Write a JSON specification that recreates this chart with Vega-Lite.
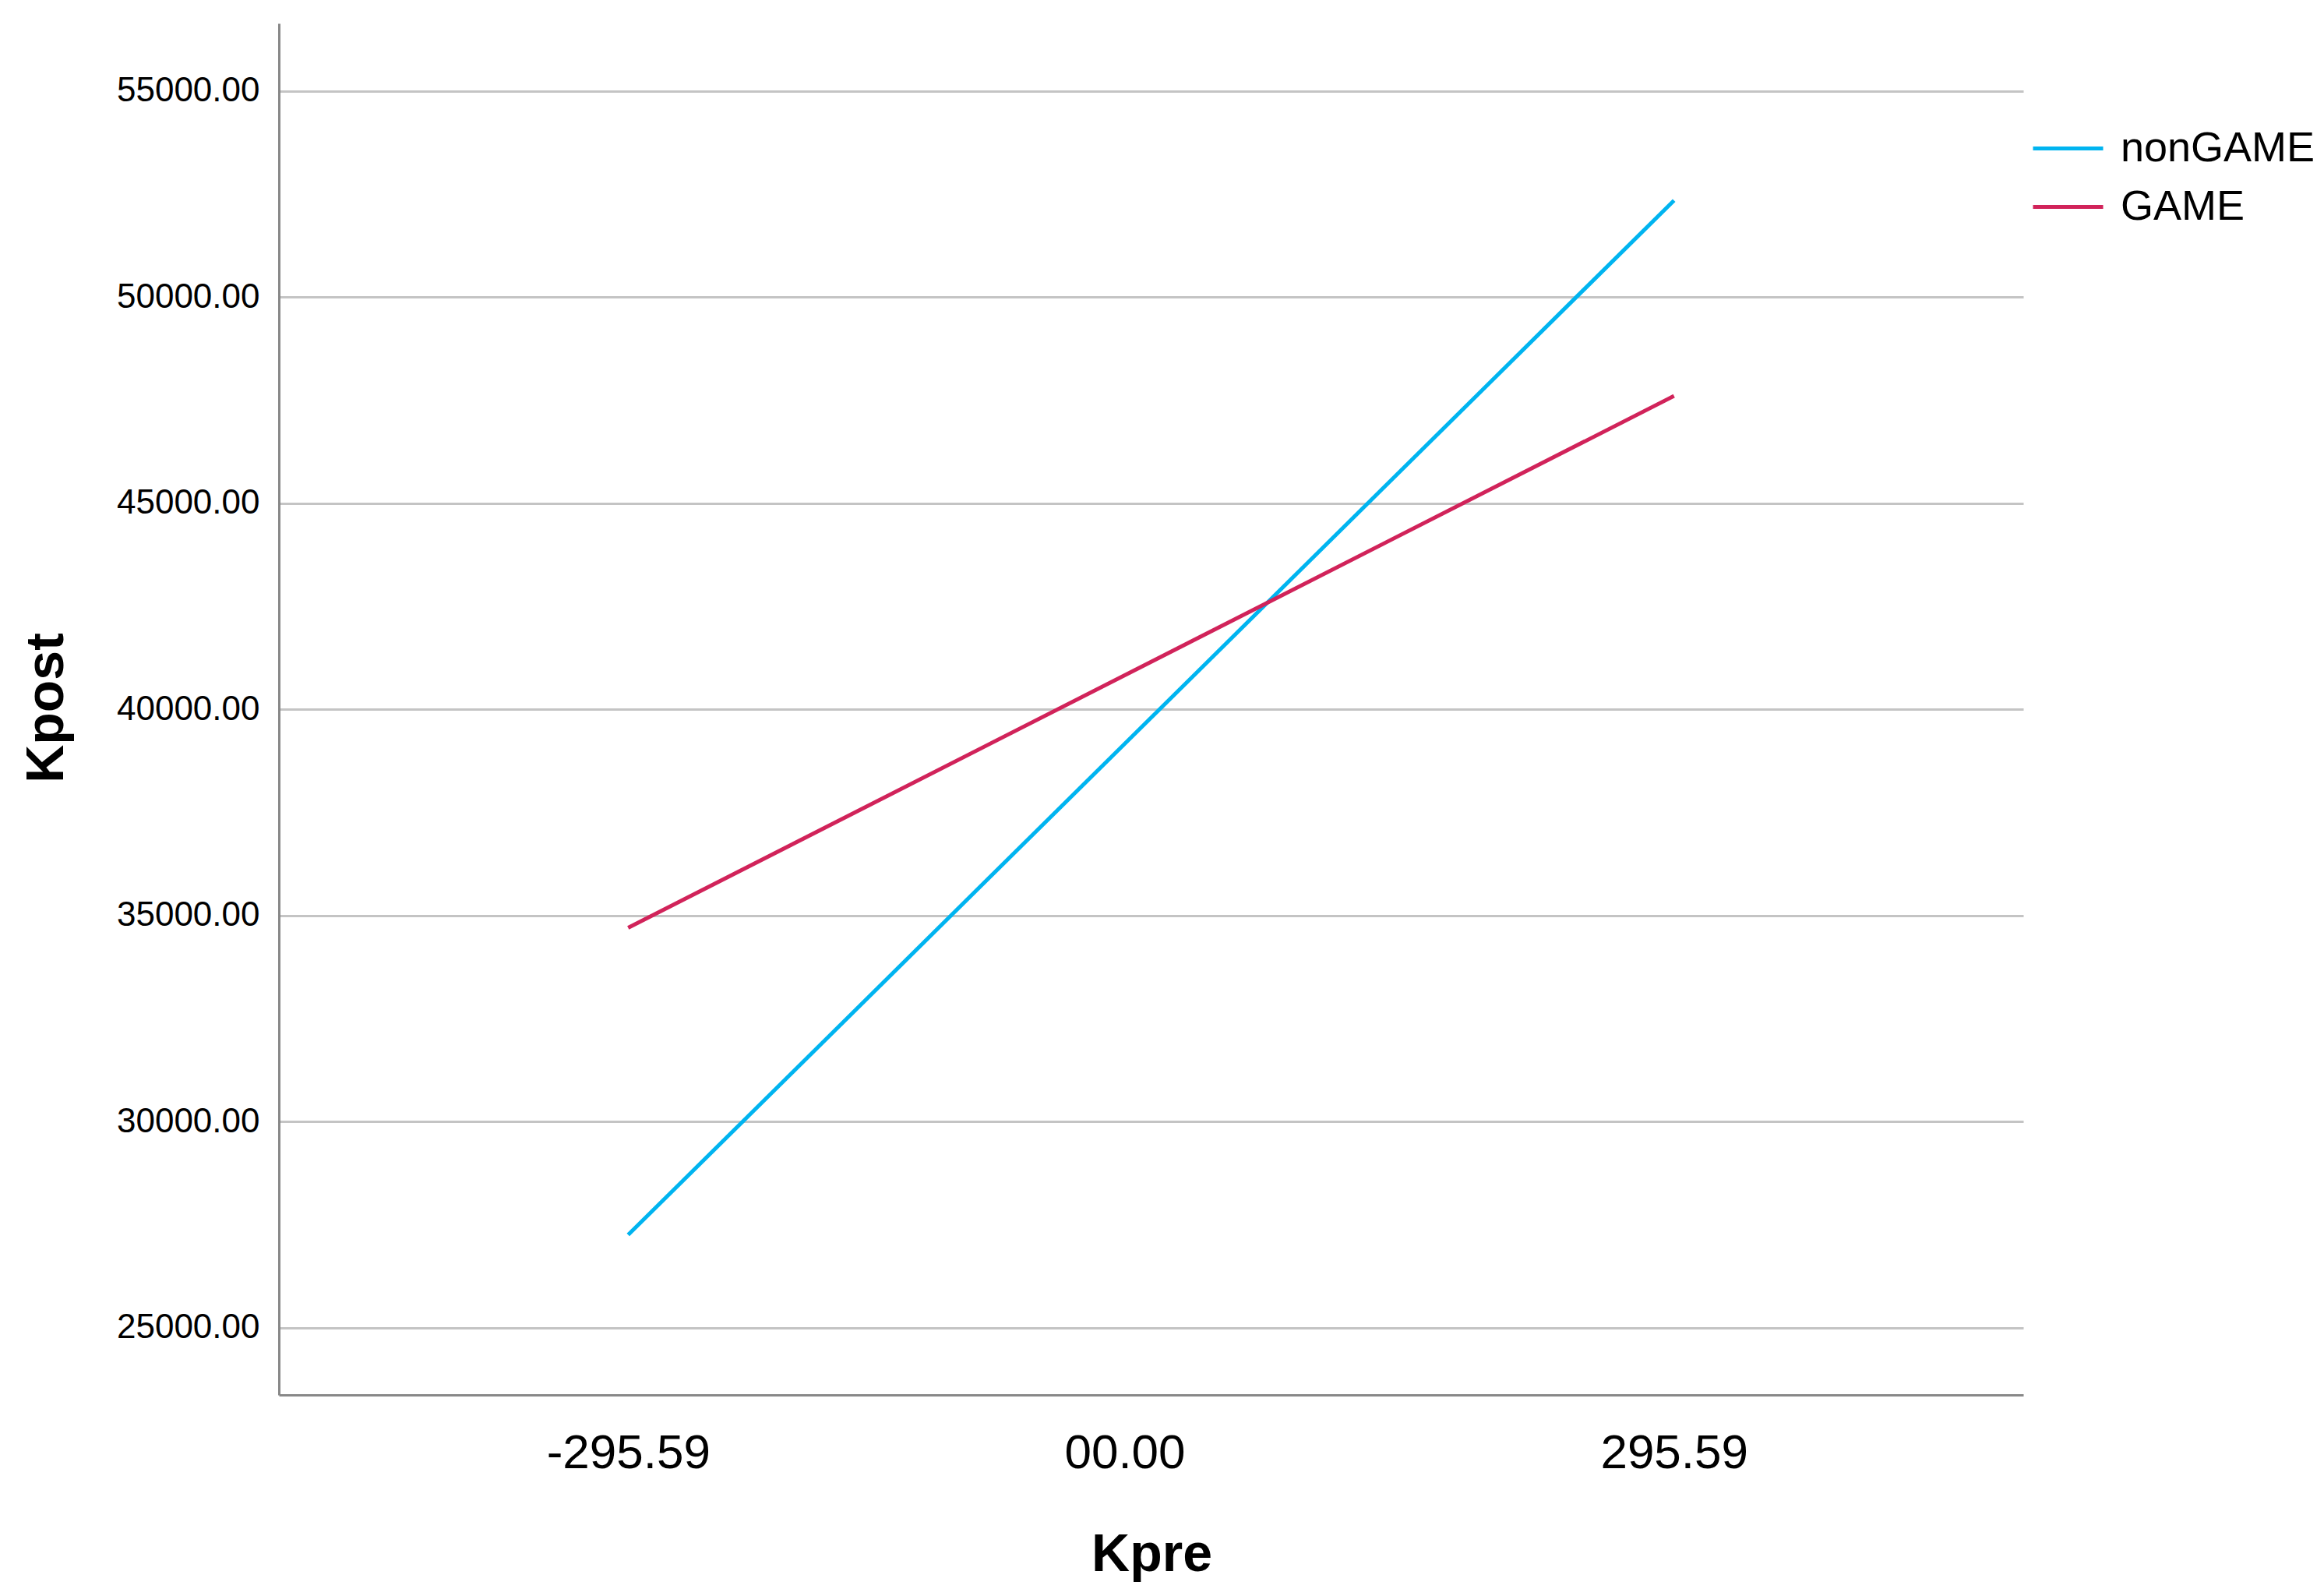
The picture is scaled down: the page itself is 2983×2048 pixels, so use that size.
{
  "$schema": "https://vega.github.io/schema/vega-lite/v6.json",
  "width": 2239,
  "height": 1760,
  "autosize": {"type": "none"},
  "padding": {"left": 358, "top": 30, "right": 386, "bottom": 258},
  "background": "white",
  "config": {
    "view": {"stroke": null},
    "font": "Liberation Sans"
  },
  "data": {
    "values": [
      {"Kpre": -295.59, "Kpost": 27250, "group": "nonGAME"},
      {"Kpre": 295.59, "Kpost": 52343, "group": "nonGAME"},
      {"Kpre": -295.59, "Kpost": 34700, "group": "GAME"},
      {"Kpre": 295.59, "Kpost": 47600, "group": "GAME"}
    ]
  },
  "mark": {"type": "line", "strokeWidth": 5, "strokeCap": "butt"},
  "encoding": {
    "x": {
      "field": "Kpre",
      "type": "quantitative",
      "scale": {"domain": [-493, 493], "nice": false, "zero": false},
      "axis": {
        "title": "Kpre",
        "values": [-295.59, 0, 295.59],
        "labelExpr": "datum.value === 0 ? '00.00' : (datum.value < 0 ? '-' : '') + format(abs(datum.value), '.2f')",
        "grid": false,
        "ticks": false,
        "tickSize": 0,
        "domainColor": "#888888",
        "domainWidth": 3,
        "labelFont": "Liberation Sans",
        "labelFontSize": 62,
        "labelColor": "#000000",
        "labelBaseline": "alphabetic",
        "labelPadding": 93,
        "labelOffset": {"condition": {"test": "datum.value === 0", "value": -34}, "value": 0},
        "labelFlush": false,
        "labelOverlap": false,
        "labelLimit": 0,
        "titleFont": "Liberation Sans",
        "titleFontSize": 68,
        "titleFontWeight": "bold",
        "titleColor": "#000000",
        "titleBaseline": "alphabetic",
        "titleX": 1120,
        "titleY": 225
      }
    },
    "y": {
      "field": "Kpost",
      "type": "quantitative",
      "scale": {"domain": [23367, 56638], "nice": false, "zero": false},
      "axis": {
        "title": "Kpost",
        "values": [25000, 30000, 35000, 40000, 45000, 50000, 55000],
        "format": ".2f",
        "grid": true,
        "gridColor": "#C4C4C4",
        "gridWidth": 3,
        "ticks": false,
        "tickSize": 0,
        "domainColor": "#888888",
        "domainWidth": 3,
        "labelFont": "Liberation Sans",
        "labelFontSize": 44,
        "labelColor": "#000000",
        "labelPadding": 25,
        "labelFlush": false,
        "labelOverlap": false,
        "labelLimit": 0,
        "titleFont": "Liberation Sans",
        "titleFontSize": 68,
        "titleFontWeight": "bold",
        "titleColor": "#000000",
        "titleAngle": -90,
        "titleAlign": "center",
        "titleBaseline": "alphabetic",
        "titleX": -278,
        "titleY": 878
      }
    },
    "color": {
      "field": "group",
      "type": "nominal",
      "scale": {"domain": ["nonGAME", "GAME"], "range": ["#00B4F0", "#D1235A"]},
      "legend": {
        "title": null,
        "orient": "none",
        "legendX": 2249,
        "legendY": 113,
        "symbolType": "stroke",
        "symbolSize": 8100,
        "symbolStrokeWidth": 5,
        "labelFont": "Liberation Sans",
        "labelFontSize": 54,
        "labelColor": "#000000",
        "labelOffset": 20,
        "rowPadding": -10,
        "padding": 0,
        "labelLimit": 0
      }
    }
  }
}
